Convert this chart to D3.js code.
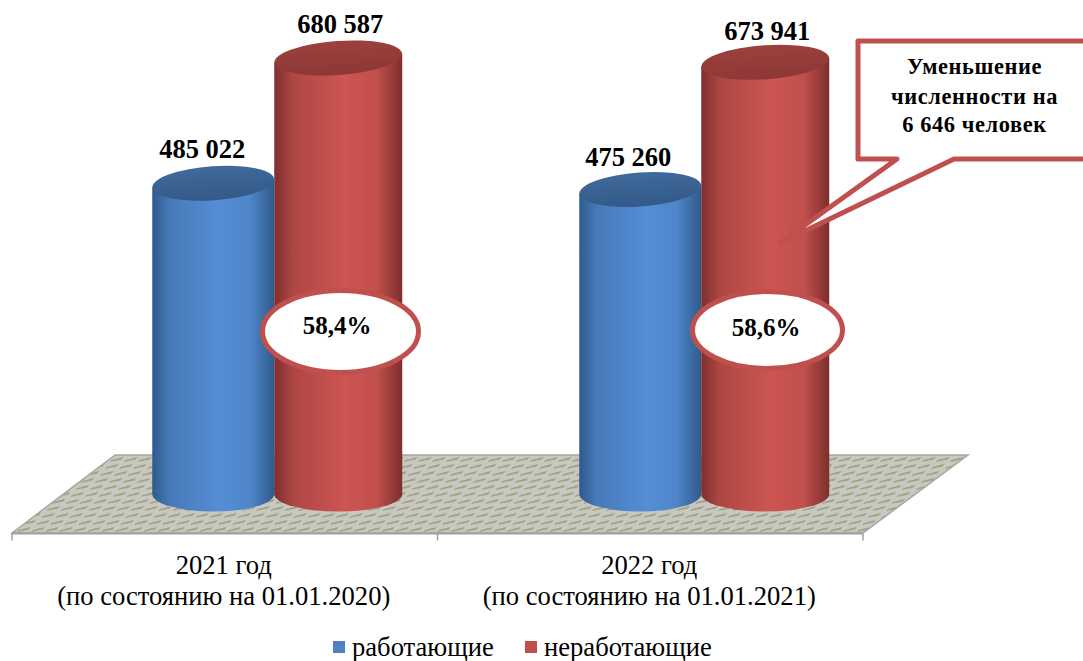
<!DOCTYPE html>
<html><head><meta charset="utf-8">
<script src="https://cdn.jsdelivr.net/npm/d3@7"></script>
<style>html,body{margin:0;padding:0;background:#fff}svg{display:block}text{font-family:"Liberation Serif","Times New Roman",serif;fill:#000}</style>
</head><body><svg id="c" width="1083" height="661"></svg>
<script>
const categories = ["2021 год", "2022 год"];
const categoryNotes = ["(по состоянию на 01.01.2020)", "(по состоянию на 01.01.2021)"];
const seriesNames = ["работающие", "неработающие"];
const working = [485022, 475260];
const nonWorking = [680587, 673941];
const shares = ["58,4%", "58,6%"];
const valueLabels = [["485 022", "475 260"], ["680 587", "673 941"]];
const calloutLines = ["Уменьшение", "численности на", "6 646 человек"];
const seriesValues = [working, nonWorking];

const svg = d3.select("#c");
const defs = svg.append("defs");
const palette = [
  {edge:"#2f5a8c", mid:"#558ed5", top:"#3f6a9b", topDark:"#335a88"},
  {edge:"#7d2f2d", mid:"#cd5552", top:"#9c403d", topDark:"#8c3836"}
];
palette.forEach((p,i)=>{
  const g = defs.append("linearGradient").attr("id","body"+i);
  [[0,p.edge],[.14,d3.interpolateRgb(p.edge,p.mid)(.6)],[.55,p.mid],[.8,d3.interpolateRgb(p.edge,p.mid)(.85)],[1,p.edge]]
    .forEach(s=>g.append("stop").attr("offset",s[0]).attr("stop-color",s[1]));
  const t = defs.append("linearGradient").attr("id","top"+i).attr("x1",0).attr("x2",0).attr("y1",0).attr("y2",1);
  t.append("stop").attr("offset",0).attr("stop-color",p.top);
  t.append("stop").attr("offset",1).attr("stop-color",p.topDark);
});

const pat = defs.append("pattern").attr("id","weave").attr("patternUnits","userSpaceOnUse")
  .attr("width",14).attr("height",7).attr("patternTransform","translate(2 455) skewX(-36)");
pat.append("rect").attr("width",14).attr("height",7).attr("fill","#c8c8c2");
pat.append("path").attr("d","M1 5 L11 2 L11 4.5 L1 7 Z").attr("fill","#a2a280");

// scales
const x = d3.scaleBand().domain(categories).range([12,863]).paddingInner(0).paddingOuter(0);
const depthShift = [49.5, 51];
const y = d3.scaleLinear().domain([0,680587]).range([494,58]);
const radius = [61, 64];
const ryTop = 17, ryBase = 17.5, tilt = -4;
const labelShift = [[-11,-12],[2,2]];
const labelLift = [[25,24],[25,22]];

// floor
const floor = d3.line();
svg.append("path")
  .attr("d", floor([[x.range()[0],533],[115,455],[968,455],[x.range()[1],533]])+"Z")
  .attr("fill","url(#weave)").attr("stroke","#a6a6a0").attr("stroke-width",1.5);

// axis
const axG = svg.append("g").attr("transform","translate(0,533.5)");
axG.append("line").attr("x1",12).attr("x2",863).attr("stroke","#a0a0a0").attr("stroke-width",2);
axG.selectAll("line.t").data([...categories.map(c=>x(c)), x.range()[1]]).enter().append("line")
  .attr("class","t").attr("x1",d=>d).attr("x2",d=>d).attr("y1",0).attr("y2",7)
  .attr("stroke","#a0a0a0").attr("stroke-width",1.5);

// cylinders
categories.forEach((c,ci)=>{
  seriesNames.forEach((s,si)=>{
    const r = radius[si];
    const mid = x(c)+x.bandwidth()/2+depthShift[ci];
    const cx = si===0 ? mid-61 : mid+r;
    const v = seriesValues[si][ci];
    const top = y(v), base = y(0);
    const dy = r*Math.sin(-tilt*Math.PI/180);
    const g = svg.append("g");
    g.append("path")
      .attr("d",`M${cx-r} ${top+dy} L${cx-r} ${base} A${r} ${ryBase} 0 0 0 ${cx+r} ${base} L${cx+r} ${top-dy} Z`)
      .attr("fill",`url(#body${si})`);
    g.append("ellipse").attr("cx",cx).attr("cy",top).attr("rx",r).attr("ry",ryTop)
      .attr("transform",`rotate(${tilt} ${cx} ${top})`)
      .attr("fill",`url(#top${si})`);
    g.append("text").attr("x",cx+labelShift[si][ci]).attr("y",top-labelLift[si][ci])
      .attr("text-anchor","middle").attr("font-weight","bold").attr("font-size",26.5)
      .text(valueLabels[si][ci]);
  });
});

// share ovals
const ovals = [{cx:340.5,cy:331.5,rx:78,ry:41,tx:337,ty:334},{cx:767.5,cy:330,rx:75,ry:38.5,tx:766,ty:336}];
shares.forEach((t,i)=>{
  const o = ovals[i];
  svg.append("ellipse").attr("cx",o.cx).attr("cy",o.cy).attr("rx",o.rx).attr("ry",o.ry)
    .attr("fill","#fff").attr("stroke","#c0504d").attr("stroke-width",5);
  svg.append("text").attr("x",o.tx).attr("y",o.ty).attr("text-anchor","middle")
    .attr("font-weight","bold").attr("font-size",25).text(t);
});

// callout
const cp = d3.path();
cp.moveTo(1086,41);cp.lineTo(858,41);cp.lineTo(858,159);cp.lineTo(897,159);cp.lineTo(780,243);cp.lineTo(954,159);cp.lineTo(1086,159);
svg.append("path").attr("d",cp.toString()).attr("fill","#fff").attr("stroke","#c0504d")
  .attr("stroke-width",5).attr("stroke-linejoin","round");
calloutLines.forEach((t,i)=>{
  svg.append("text").attr("x",974.5).attr("y",[74,104,132][i]).attr("text-anchor","middle")
    .attr("font-weight","bold").attr("font-size",22.4).style("letter-spacing","0.6px").text(t);
});

// category labels
categories.forEach((c,i)=>{
  const cx = x(c)+x.bandwidth()/2;
  svg.append("text").attr("x",cx-1).attr("y",574).attr("text-anchor","middle").attr("font-size",26.6).text(c);
  svg.append("text").attr("x",cx-1).attr("y",605).attr("text-anchor","middle").attr("font-size",26.6).text(categoryNotes[i]);
});

// legend
const legendX = [333,525];
seriesNames.forEach((s,i)=>{
  svg.append("rect").attr("x",legendX[i]).attr("y",641).attr("width",12).attr("height",12)
    .attr("fill",i===0?"#4f81bd":"#c0504d");
  svg.append("text").attr("x",legendX[i]+19).attr("y",656).attr("font-size",26.6).text(s);
});
</script></body></html>
